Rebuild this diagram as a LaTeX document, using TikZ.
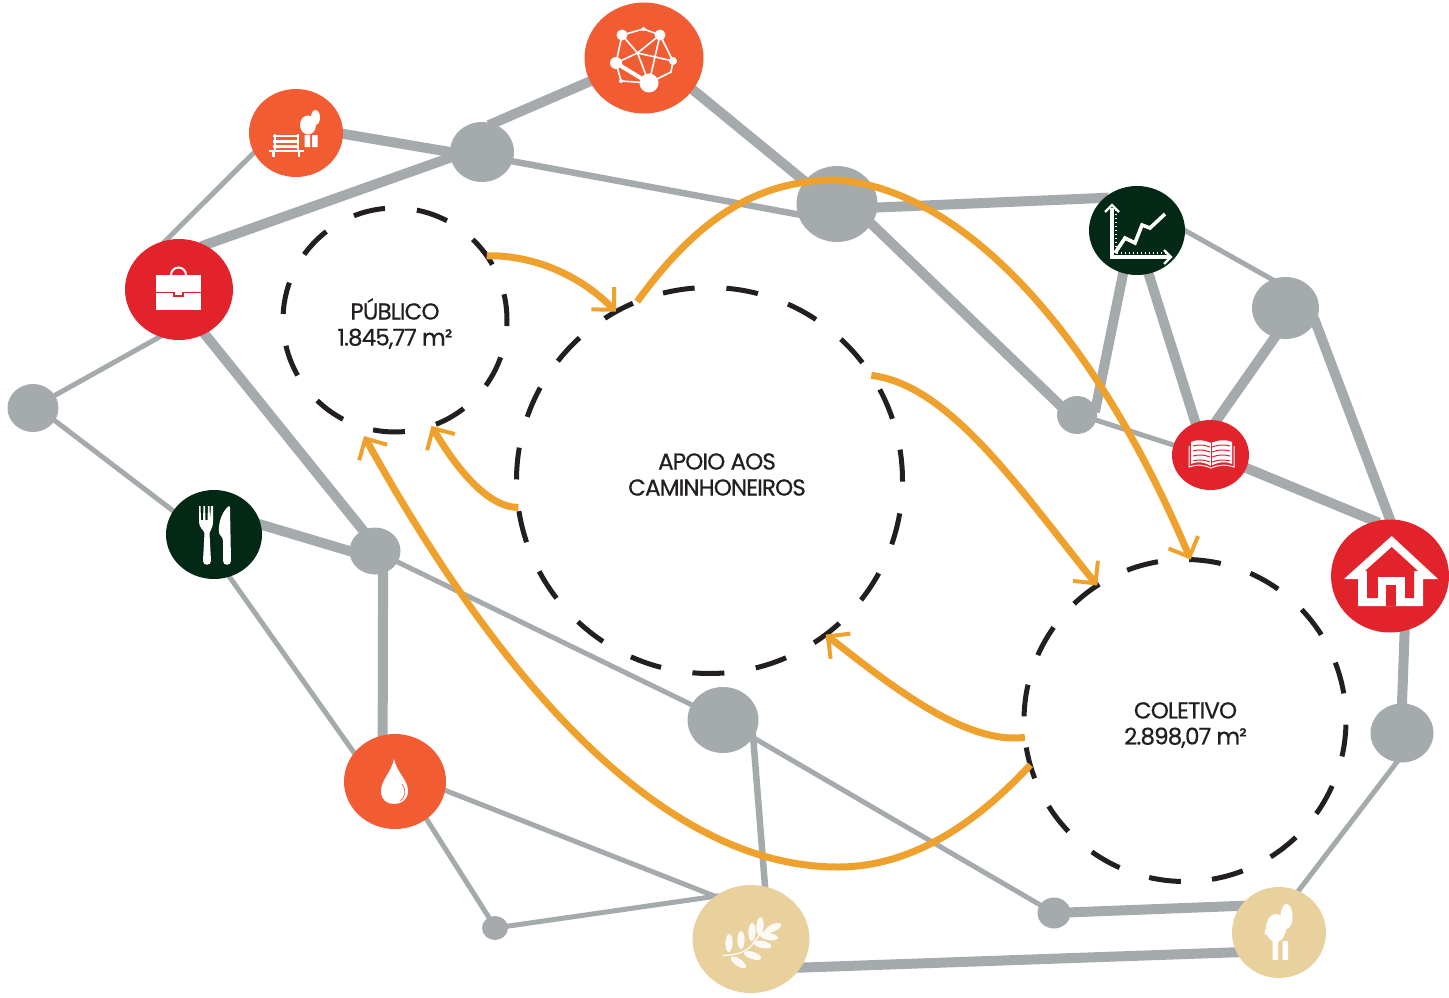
\documentclass[tikz,border=0pt]{standalone}
\usepackage{fontspec}
\setmainfont{Poppins}
\usetikzlibrary{shapes.geometric,arrows.meta,backgrounds}

\definecolor{linkgray}{HTML}{A5AAAD}
\definecolor{flowgold}{HTML}{EEA22D}
\definecolor{spotorange}{HTML}{F15C33}
\definecolor{spotred}{HTML}{E2232C}
\definecolor{spotgreen}{HTML}{032815}
\definecolor{spotsand}{HTML}{E9D19E}
\definecolor{inkblack}{HTML}{231F20}

\tikzset{
    spot/.style n args={3}{ellipse,fill=#1,minimum width=#2pt,minimum height=#3pt,inner sep=0pt,outer sep=0pt},
    hub/.style 2 args={spot={linkgray}{#1}{#2}},
    area/.style n args={3}{circle,draw=inkblack,line width=5pt,minimum size=#1pt,inner sep=0pt,outer sep=0pt,
        dash pattern=on 32pt off #2pt,dash phase=#3pt},
    arealabel/.style={text=inkblack,align=center,inner sep=0pt,
        font=\fontsize{23}{26}\selectfont\addfontfeatures{LetterSpace=-3.8,FakeBold=0.7}},
    thinlink/.style={line width=5pt},
    midlink/.style={line width=6.5pt},
    widelink/.style={line width=10pt},
    flow/.style={draw=flowgold,line width=7pt,-{Straight Barb[length=16pt,width=32pt,line width=4pt]}},
}

\begin{document}
\begin{tikzpicture}[x=1pt,y=-1pt]
    \useasboundingbox (0,0) rectangle (1449,998);
    % icons on the network
    \node[spot={spotorange}{119}{111}] (icon_net) at (644,58) {};
    \node[spot={spotorange}{94}{88}] (icon_bench) at (296,133) {};
    \node[spot={spotred}{108}{101}] (icon_case) at (179,289.5) {};
    \node[spot={spotgreen}{96}{89}] (icon_chart) at (1137,230.5) {};
    \node[spot={spotred}{77}{70}] (icon_book) at (1210.5,455) {};
    \node[spot={spotred}{118}{113}] (icon_house) at (1390,576) {};
    \node[spot={spotgreen}{96}{89}] (icon_food) at (214,534.5) {};
    \node[spot={spotorange}{102}{95}] (icon_water) at (395,781.5) {};
    \node[spot={spotsand}{117}{108}] (icon_plant) at (751,939) {};
    \node[spot={spotsand}{94}{91}] (icon_tree) at (1279,932.5) {};
    % grey junctions
    \node[hub={64}{60}] (hub_1) at (482,152) {};
    \node[hub={81}{76}] (hub_2) at (837,204) {};
    \node[hub={40}{38}] (hub_3) at (1077,415) {};
    \node[hub={67}{62}] (hub_4) at (1285.5,308) {};
    \node[hub={51}{48}] (hub_5) at (33,408) {};
    \node[hub={51}{47}] (hub_6) at (375,551) {};
    \node[hub={71}{66}] (hub_7) at (723,720) {};
    \node[hub={26}{24}] (hub_8) at (495,928) {};
    \node[hub={33}{31}] (hub_9) at (1054,913) {};
    \node[hub={63}{59}] (hub_10) at (1402,733) {};
    % dashed areas
    \node[area={224}{31.97}{6}] (publico) at (395,320) {};
    \node[area={386}{31.82}{1}] (apoio) at (709.5,480.5) {};
    \node[area={322}{31.22}{36}] (coletivo) at (1185,720.5) {};
    \node[arealabel] (label_publico) at (395,323.5) {PÚBLICO\\1.845,77 m²};
    \node[arealabel] (label_apoio) at (717,474.5) {APOIO AOS\\CAMINHONEIROS};
    \node[arealabel] (label_coletivo) at (1185.5,725) {COLETIVO\\2.898,07 m²};
    \coordinate (tip_publico) at (364,436);

    \begin{scope}[on background layer]
    \path[draw=linkgray,shorten <=-4pt,shorten >=-4pt]
        (icon_net) edge [widelink] (hub_1.70)
        (icon_net.-33) edge [widelink] (hub_2.145)
        (icon_bench.-1) edge [widelink] (hub_1.180)
        (icon_bench.205) edge [thinlink] (icon_case.105)
        (icon_case.60) edge [widelink] (hub_1.190)
        (icon_case.-112) edge [thinlink] (hub_5.30)
        (icon_case.-60) edge [widelink] (hub_6.120)
        (hub_1.-17) edge [midlink] (hub_2.195)
        (hub_2.-30) edge [widelink] (hub_3.150)
        (hub_2.-5) edge [widelink] (icon_chart.135)
        (icon_chart.-108) edge [widelink] (hub_3.20)
        (icon_chart.-75) edge [widelink] (icon_book.115)
        (icon_chart.0) edge [thinlink] (hub_4.115)
        (hub_4.-110) edge [widelink] (icon_book.80)
        (hub_4.-25) edge [widelink] (icon_house.90)
        (icon_book.-20) edge [widelink] (icon_house.105)
        (hub_3.-15) edge [thinlink] (icon_book.165)
        (icon_house.-75) edge [widelink] (hub_10.90)
        (hub_10.-100) edge [thinlink] (icon_tree.65)
        (icon_tree.145) edge [widelink] (hub_9)
        (icon_tree.-155) edge [widelink] (icon_plant.-30)
        (hub_7) edge [thinlink] (hub_9)
        (hub_7.-30) edge [midlink] (icon_plant.75)
        (hub_6) edge [thinlink] (hub_7)
        (icon_food.12) edge [widelink] (hub_6.west)
        (hub_6.-70) edge [widelink] (icon_water.105)
        (icon_food.-70) edge [thinlink] (icon_water.145)
        (icon_water.-50) edge [thinlink] (hub_8.120)
        (icon_water.-10) edge [thinlink] (icon_plant.130)
        (hub_8) edge [thinlink] (icon_plant.130)
        (hub_5.-30) edge [thinlink] (icon_food.150);
    \end{scope}

    % flows between the areas
    \draw[flow] (publico.35) .. controls (540,255) and (585,280) .. (apoio.119);
    \draw[flow] (apoio.112) .. controls (700,215) and (760,180) .. (837,180)
        .. controls (950,188) and (1085,310) .. (coletivo.88);
    \draw[flow] (apoio.33) .. controls (950,385) and (1020,490) .. (coletivo.123);
    \draw[flow] (apoio.188) .. controls (495,508) and (465,483) .. (publico.-71);
    \draw[flow] (coletivo.196) .. controls (975,825) and (910,867) .. (838,867)
        .. controls (690,867) and (530,735) .. (tip_publico);
    \draw[flow] (coletivo.186) .. controls (965,745) and (890,685) .. (apoio.-53);

    % net glyph
    \draw[white,line width=1.6pt]
        (622,35) -- (643.5,29) -- (660,35) -- (673,61) -- (671,72) -- (649,83) -- (621,81) -- (616,63) -- (622,35)
        (622,35) -- (637.5,53) -- (649,83) -- (660,35) -- (637.5,53) -- (673,61)
        (616,63) -- (637.5,53);
    \draw[white,line width=4pt] (616,63) -- (649,83);
    \foreach \x/\y/\r in {622/35/5.5,660/35/5.5,673/61/4,616/63/6,649/83/9.5,621/81/2,643.5/29/2}
        \fill[white] (\x,\y) circle [radius=\r pt];

    % bench glyph
    \draw[white,line width=2.6pt]
        (273,136) -- (299,136) (273,141.5) -- (299,141.5) (273,146.5) -- (299,146.5) (269,151) -- (304,151)
        (275,134) -- (275,150) (298,134) -- (298,150) (273.5,151) -- (273.5,157) (299,151) -- (299,157);
    \fill[white] (304.5,135) rectangle (310,147) (312,135) rectangle (317.5,147);
    \fill[white] (308,125) ellipse [x radius=8pt,y radius=9.5pt];
    \fill[white] (315.5,117.5) ellipse [x radius=4.5pt,y radius=7.5pt];

    % case glyph
    \fill[white] (156,275) rectangle (201,309.5);
    \draw[white,line width=2pt] (171,275) arc [start angle=180,end angle=0,radius=7.5pt];
    \draw[spotred,line width=1.6pt] (156,292.5) -- (174,292.5) -- (174,296) -- (183,296) -- (183,292.5) -- (201,292.5);

    % chart glyph
    \draw[white,line width=3.4pt] (1112,208) -- (1112,257) -- (1170,257);
    \draw[white,line width=2.2pt] (1105,212) -- (1112,205) -- (1119,212) (1164,250) -- (1171,257) -- (1164,264);
    \draw[white,line width=1.2pt,dash pattern=on 1pt off 3pt] (1116,210) -- (1116,253) -- (1166,253);
    \draw[white,line width=3.6pt] (1115,253) -- (1125,238) -- (1135,243) -- (1142,225) -- (1150,228) -- (1165,214);

    % book glyph
    \fill[white] (1191,442) .. controls (1198,439) and (1204,440) .. (1211,443)
        .. controls (1218,440) and (1225,439) .. (1232,442) -- (1232,464)
        .. controls (1225,461) and (1218,462) .. (1211,466)
        .. controls (1204,462) and (1198,461) .. (1191,464) -- cycle;
    \foreach \y in {447,452,457,462}
        \draw[spotred,line width=1pt] (1193,\y-1) .. controls (1200,\y-3) and (1204,\y-2) .. (1210,\y)
            (1212,\y) .. controls (1218,\y-2) and (1223,\y-3) .. (1230,\y-1);
    \draw[spotred,line width=0.8pt] (1211,443) -- (1211,466);
    \draw[white,line width=1pt] (1189,446) -- (1189,467) .. controls (1198,464) and (1204,465) .. (1211,468)
        .. controls (1218,465) and (1225,464) .. (1234,467) -- (1234,446);

    % house glyph
    \fill[white] (1391.7,536) -- (1438,579) -- (1423,579) -- (1423,606) -- (1358,606) -- (1358,579) -- (1344,579) -- cycle;
    \fill[spotred] (1391.7,547) -- (1418,571) -- (1414,571) -- (1414,598) -- (1367,598) -- (1367,571) -- (1365,571) -- cycle;
    \fill[white] (1378,577) rectangle (1405,606);
    \fill[spotred] (1386,585) rectangle (1396,606);

    % cutlery glyph
    \fill[white] (199,506) -- (200.5,506) -- (201,520) -- (203,520) -- (203.5,506) -- (205,506) -- (205.5,520) -- (207.5,520)
        -- (208,506) -- (209.5,506) -- (210,520) -- (211,506) -- (213,506) -- (213,522)
        .. controls (213,528) and (210,530) .. (209.5,533) -- (211,561)
        .. controls (211,566) and (203,566) .. (203,561) -- (204.5,533)
        .. controls (204,530) and (199,528) .. (199,522) -- cycle;
    \fill[white] (229,506) .. controls (223,510) and (218,522) .. (219,532)
        .. controls (219,536) and (223,536) .. (223,541) -- (223,561)
        .. controls (223,566) and (231,566) .. (231,561) -- (230,508) .. controls (230,506) and (229,506) .. (229,506) -- cycle;

    % drop glyph
    \fill[white] (394,759) .. controls (397,773) and (408,780) .. (408,791)
        .. controls (408,800) and (401,804) .. (394,804)
        .. controls (387,804) and (381,800) .. (381,791)
        .. controls (381,780) and (391,773) .. (394,759) -- cycle;
    \draw[spotorange,line width=0.6pt] (402,784) .. controls (407,791) and (405,798) .. (400,801);

    % branch glyph
    \draw[white,line width=1.2pt] (723,955.5) .. controls (735,955) and (745,953) .. (752,945) .. controls (757,938) and (759,934) .. (766,931);
    \foreach \x/\y/\a in {729/943/88,741/940/90,752/932/88,760/926/85,773/928/25,769/936.5/-10,762.5/944.5/-12,752.6/955.5/-18,738.5/962.4/-35}
        \fill[white!90!spotsand] (\x,\y) ellipse [x radius=9pt,y radius=3.6pt,rotate=\a];

    % tree glyph
    \fill[white] (1272.7,941) rectangle (1278,960) (1282.6,941) rectangle (1288,960);
    \fill[white] (1276,928) ellipse [x radius=10pt,y radius=14pt];
    \fill[white] (1268,932) circle [radius=3.5pt];
    \fill[white] (1286.5,916.5) ellipse [x radius=6pt,y radius=12.5pt];
\end{tikzpicture}
\end{document}
